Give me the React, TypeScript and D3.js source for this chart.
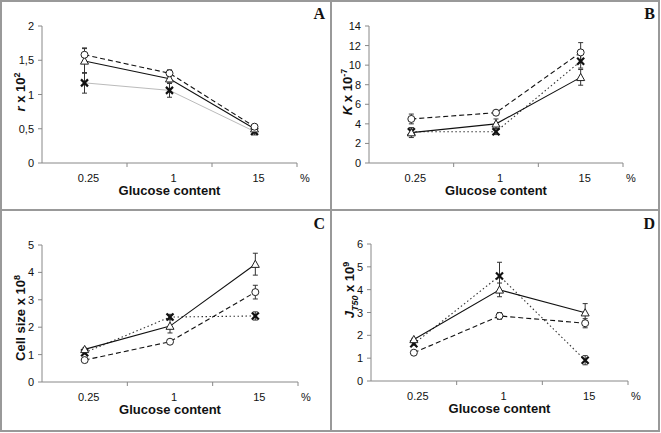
import React from "react";
import * as d3 from "d3";

const categories = ["0.25", "1", "15"];

// Panel A: r x 10^2
const aCircle = [1.58, 1.31, 0.53];
const aCircleErr = [0.1, 0.05, 0.03];
const aTriangle = [1.49, 1.23, 0.5];
const aTriangleErr = [0.18, 0.05, 0.03];
const aCross = [1.17, 1.06, 0.46];
const aCrossErr = [0.15, 0.1, 0.05];
const aTicks = [0, 0.5, 1, 1.5, 2];
const aTickLabels = ["0", "0,5", "1", "1,5", "2"];

// Panel B: K x 10^-7
const bCircle = [4.5, 5.14, 11.3];
const bCircleErr = [0.5, 0.2, 1.0];
const bTriangle = [3.1, 4.0, 8.75];
const bTriangleErr = [0.5, 0.5, 0.8];
const bCross = [3.2, 3.2, 10.4];
const bCrossErr = [0.4, 0.3, 0.7];
const bTicks = [0, 2, 4, 6, 8, 10, 12, 14];

// Panel C: Cell size x 10^8
const cCircle = [0.8, 1.47, 3.28];
const cCircleErr = [0.05, 0.05, 0.25];
const cTriangle = [1.19, 2.04, 4.3];
const cTriangleErr = [0.05, 0.25, 0.4];
const cCross = [1.07, 2.37, 2.41];
const cCrossErr = [0.05, 0.1, 0.15];
const cTicks = [0, 1, 2, 3, 4, 5];

// Panel D: J_T50 x 10^9
const dCircle = [1.24, 2.85, 2.53];
const dCircleErr = [0.05, 0.15, 0.2];
const dTriangle = [1.82, 3.99, 2.99];
const dTriangleErr = [0.05, 0.3, 0.4];
const dCross = [1.63, 4.6, 0.91];
const dCrossErr = [0.05, 0.6, 0.2];
const dTicks = [0, 1, 2, 3, 4, 5, 6];

type Series = { values: number[]; err: number[]; marker: "circle" | "triangle" | "cross"; dash: string; color: string; width: number };

type PanelDef = {
  letter: string;
  x0: number; x1: number; yTop: number; yBot: number;
  max: number; ticks: number[]; tickLabels: string[];
  series: Series[];
  title: React.ReactNode;
  titleX: number; titleY: number;
  letterX: number; letterY: number;
};

const FONT = "'Liberation Sans', Arial, sans-serif";

function Marker({ kind, x, y }: { kind: string; x: number; y: number }) {
  if (kind === "circle") return <circle cx={x} cy={y} r={3.5} fill="white" stroke="#222" strokeWidth={1} />;
  if (kind === "triangle") {
    const s = 4;
    return <path d={`M${x},${y - s}L${x + s},${y + s * 0.8}L${x - s},${y + s * 0.8}Z`} fill="white" stroke="#222" strokeWidth={1} />;
  }
  const s = 3.5;
  return (
    <g stroke="#111" strokeWidth={2.2}>
      <line x1={x - s} y1={y - s} x2={x + s} y2={y + s} />
      <line x1={x - s} y1={y + s} x2={x + s} y2={y - s} />
    </g>
  );
}

function Panel({ p }: { p: PanelDef }) {
  const x = d3.scaleBand<string>().domain(categories).range([p.x0, p.x1]).padding(0);
  const y = d3.scaleLinear().domain([0, p.max]).range([p.yBot, p.yTop]);
  const cx = (c: string) => (x(c) as number) + x.bandwidth() / 2;
  const axisColor = "#888";
  return (
    <g>
      <line x1={p.x0} y1={p.yTop} x2={p.x0} y2={p.yBot} stroke={axisColor} strokeWidth={1} />
      <line x1={p.x0} y1={p.yBot} x2={p.x1} y2={p.yBot} stroke={axisColor} strokeWidth={1} />
      {p.ticks.map((t, i) => (
        <g key={i}>
          <line x1={p.x0 - 4} x2={p.x0} y1={y(t)} y2={y(t)} stroke={axisColor} />
          <text x={p.x0 - 8} y={y(t) + 4} textAnchor="end" fontFamily={FONT} fontSize={11} fill="#111">{p.tickLabels[i]}</text>
        </g>
      ))}
      {categories.map((c) => (
        <g key={c}>
          <line x1={(x(c) as number) + x.bandwidth()} x2={(x(c) as number) + x.bandwidth()} y1={p.yBot} y2={p.yBot + 4} stroke={axisColor} />
          <text x={cx(c) + 4} y={p.yBot + 19} textAnchor="middle" fontFamily={FONT} fontSize={11} fill="#111">{c}</text>
        </g>
      ))}
      <text x={p.x1 + 8} y={p.yBot + 19} textAnchor="middle" fontFamily={FONT} fontSize={11} fill="#111">%</text>
      <text x={cx("1")} y={p.yBot + 32} textAnchor="middle" fontFamily={FONT} fontSize={13} fontWeight="bold" fill="#111">Glucose content</text>
      <text transform={`translate(${p.titleX},${p.titleY}) rotate(-90)`} textAnchor="middle" fontFamily={FONT} fontSize={13} fontWeight="bold" fill="#111">{p.title}</text>
      <text x={p.letterX} y={p.letterY} textAnchor="end" fontFamily="'Liberation Serif', 'Times New Roman', serif" fontSize={16} fontWeight="bold" fill="#111">{p.letter}</text>
      {p.series.map((s, si) => {
        const line = d3.line<number>().x((_, i) => cx(categories[i])).y((v) => y(v));
        return (
          <g key={si}>
            <path d={line(s.values) || ""} fill="none" stroke={s.color} strokeWidth={s.width} strokeDasharray={s.dash} />
          </g>
        );
      })}
      {p.series.map((s, si) => (
        <g key={"e" + si}>
          {s.values.map((v, i) => {
            const px = cx(categories[i]);
            const yt = y(v + s.err[i]);
            const yb = y(v - s.err[i]);
            return (
              <g key={i} stroke="#333" strokeWidth={1}>
                <line x1={px} x2={px} y1={yt} y2={yb} />
                <line x1={px - 2.5} x2={px + 2.5} y1={yt} y2={yt} />
                <line x1={px - 2.5} x2={px + 2.5} y1={yb} y2={yb} />
              </g>
            );
          })}
        </g>
      ))}
      {p.series.map((s, si) => (
        <g key={"m" + si}>
          {s.values.map((v, i) => (
            <Marker key={i} kind={s.marker} x={cx(categories[i])} y={y(v)} />
          ))}
        </g>
      ))}
    </g>
  );
}

const mk = (values: number[], err: number[], marker: Series["marker"], dash: string, color = "#111", width = 1.1): Series => ({ values, err, marker, dash, color, width });

export default function App() {
  const numLabels = (t: number[]) => t.map((v) => String(v));
  const panels: PanelDef[] = [
    {
      letter: "A", x0: 42, x1: 297, yTop: 26, yBot: 163, max: 2, ticks: aTicks, tickLabels: aTickLabels,
      series: [
        mk(aCross, aCrossErr, "cross", "", "#bbb", 1),
        mk(aTriangle, aTriangleErr, "triangle", ""),
        mk(aCircle, aCircleErr, "circle", "5,3"),
      ],
      title: (<><tspan fontStyle="italic">r</tspan><tspan> x 10</tspan><tspan fontSize={9} dy={-5}>2</tspan></>),
      titleX: 25, titleY: 92, letterX: 325, letterY: 19,
    },
    {
      letter: "B", x0: 369, x1: 623, yTop: 26, yBot: 163, max: 14, ticks: bTicks, tickLabels: numLabels(bTicks),
      series: [
        mk(bCross, bCrossErr, "cross", "1.5,2.5", "#333", 1.1),
        mk(bTriangle, bTriangleErr, "triangle", ""),
        mk(bCircle, bCircleErr, "circle", "5,3"),
      ],
      title: (<><tspan fontStyle="italic">K</tspan><tspan> x 10</tspan><tspan fontSize={9} dy={-5}>-7</tspan></>),
      titleX: 352, titleY: 92, letterX: 655, letterY: 19,
    },
    {
      letter: "C", x0: 42, x1: 298, yTop: 245, yBot: 382, max: 5, ticks: cTicks, tickLabels: numLabels(cTicks),
      series: [
        mk(cCross, cCrossErr, "cross", "1.5,2.5", "#333", 1.1),
        mk(cTriangle, cTriangleErr, "triangle", ""),
        mk(cCircle, cCircleErr, "circle", "5,3"),
      ],
      title: (<><tspan>Cell size x 10</tspan><tspan fontSize={9} dy={-5}>8</tspan></>),
      titleX: 25, titleY: 318, letterX: 325, letterY: 229,
    },
    {
      letter: "D", x0: 371, x1: 628, yTop: 244, yBot: 381, max: 6, ticks: dTicks, tickLabels: numLabels(dTicks),
      series: [
        mk(dCross, dCrossErr, "cross", "1.5,2.5", "#333", 1.1),
        mk(dTriangle, dTriangleErr, "triangle", ""),
        mk(dCircle, dCircleErr, "circle", "5,3"),
      ],
      title: (<><tspan fontStyle="italic">J</tspan><tspan fontStyle="italic" fontSize={9} dy={4}>T50</tspan><tspan dy={-4}> x 10</tspan><tspan fontSize={9} dy={-5}>9</tspan></>),
      titleX: 354, titleY: 290, letterX: 655, letterY: 229,
    },
  ];
  return (
    <svg width={661} height={433} style={{ position: "absolute", left: 0, top: 0, background: "white" }}>
      <rect x={0} y={0} width={661} height={433} fill="white" />
      <rect x={1} y={1} width={658} height={430} fill="none" stroke="#999" strokeWidth={2} />
      <line x1={1} x2={660} y1={210} y2={210} stroke="#999" strokeWidth={2} />
      <line x1={331} x2={331} y1={1} y2={432} stroke="#999" strokeWidth={2} />
      {panels.map((p) => <Panel key={p.letter} p={p} />)}
    </svg>
  );
}
